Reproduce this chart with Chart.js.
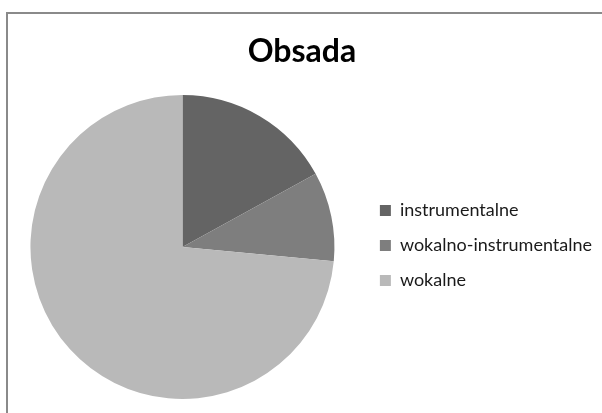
<!DOCTYPE html>
<html>
<head>
<meta charset="utf-8">
<script src="https://cdn.jsdelivr.net/npm/chart.js@4"></script>
<style>
  html, body { margin: 0; padding: 0; background: #fff; }
  #wrap { position: relative; width: 602px; height: 413px; overflow: hidden; }
  #frame { position: absolute; left: 6px; top: 12px; width: 700px; height: 500px;
           border-left: 2px solid #8a8a8a; border-top: 2px solid #8a8a8a; }
  #chart { position: absolute; left: 0; top: 0; }
</style>
</head>
<body>
<div id="wrap">
  <div id="frame"></div>
  <canvas id="chart" width="602" height="413"></canvas>
</div>
<script>
const titleText = 'Obsada';
const categories = ['instrumentalne', 'wokalno-instrumentalne', 'wokalne'];
const shares = [17, 9.5, 73.5];
const sliceColors = ['#646464', '#7e7e7e', '#b9b9b9'];

const ctx = document.getElementById('chart');

const chart = new Chart(ctx, {
  type: 'pie',
  data: {
    labels: categories,
    datasets: [
      {
        data: shares,
        backgroundColor: sliceColors,
        borderWidth: 0,
      },
    ],
  },
  options: {
    responsive: false,
    animation: false,
    layout: {
      padding: { left: 2, right: 0, top: 0, bottom: 14 },
    },
    plugins: {
      tooltip: { enabled: false },
      title: {
        display: true,
        text: titleText,
        color: '#000',
        font: { family: 'Lato', size: 32, weight: 'bold' },
        padding: { top: 32, bottom: 24.6 },
      },
      legend: {
        position: 'right',
        // empty legend title only used to push the items down
        title: {
          display: true,
          text: '',
          font: { size: 12 },
          padding: { top: 0, bottom: 77.6 },
        },
        labels: {
          color: '#1a1a1a',
          font: { family: 'Lato', size: 18 },
          boxWidth: 11,
          boxHeight: 11,
          padding: 17,
        },
      },
    },
  },
});
</script>
</body>
</html>
